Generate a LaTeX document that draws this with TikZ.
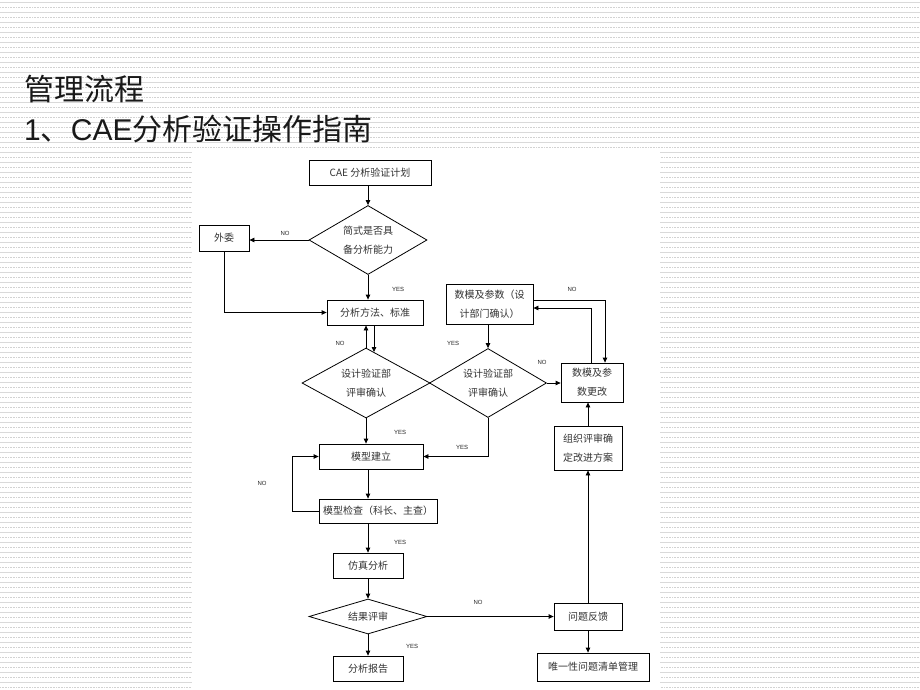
\documentclass[tikz,border=0pt]{standalone}
\usepackage{fontspec}
\newfontfamily\cjk{Noto Sans CJK SC}
\setsansfont{Liberation Sans}
\usetikzlibrary{shapes.geometric,arrows.meta}
\begin{document}
\begin{tikzpicture}[x=1pt,y=-1pt,
  box/.style={draw=black, line width=0.8pt, fill=white, inner sep=0pt,
    font=\cjk\fontsize{10}{19}\selectfont, text=black!80, align=center},
  dia/.style={diamond, draw=black, line width=0.8pt, fill=white, inner sep=0pt,
    font=\cjk\fontsize{10}{19}\selectfont, text=black!80, align=center},
  arr/.style={draw=black, line width=0.8pt, -{Triangle[length=5pt,width=4.5pt]}},
  ln/.style={draw=black, line width=0.8pt},
  lbl/.style={font=\sffamily\fontsize{6}{6}\selectfont, text=black!85, inner sep=0pt},
  ttl/.style={font=\cjk\fontsize{30}{34}\selectfont, text=black!90, anchor=west, inner sep=0pt}]
\useasboundingbox (0,0) rectangle (920,690);
% background stripes
\fill[white] (0,0) rectangle (920,690);
\foreach \k in {0,...,68}{
  \draw[gray!30, line width=0.7pt] (0,\k*10+2) -- (920,\k*10+2);
  \draw[gray!35, line width=0.6pt, densely dotted] (0,\k*10+7) -- (920,\k*10+7);
}
% white panel
\fill[white] (192,152) rectangle (660,690);
% title
\node[ttl] (t1) at (24,89) {管理流程};
\node[ttl] (t2) at (24,129) {{\sffamily 1}、{\sffamily CAE}分析验证操作指南};
% nodes
\node[box, minimum width=122pt, minimum height=25pt] (plan) at (370,172.5) {CAE 分析验证计划};
\node[dia, minimum width=118pt, minimum height=69pt, aspect=1.7] (d1) at (368,240) {简式是否具\\备分析能力};
\node[box, minimum width=50pt, minimum height=26pt] (wai) at (224,238) {外委};
\node[box, minimum width=96pt, minimum height=25pt] (method) at (375,312.5) {分析方法、标准};
\node[box, minimum width=87pt, minimum height=40pt] (param) at (489.5,304) {数模及参数（设\\计部门确认）};
\node[dia, minimum width=128pt, minimum height=70pt, aspect=1.7] (d2) at (366,383) {设计验证部\\评审确认};
\node[dia, minimum width=117pt, minimum height=69pt, aspect=1.7] (d3) at (488,383) {设计验证部\\评审确认};
\node[box, minimum width=62pt, minimum height=39pt] (change) at (592,382.5) {数模及参\\数更改};
\node[box, minimum width=68pt, minimum height=44pt] (org) at (588,448) {组织评审确\\定改进方案};
\node[box, minimum width=104pt, minimum height=25pt] (build) at (371,456.5) {模型建立};
\node[box, minimum width=118pt, minimum height=24pt] (check) at (378,511) {模型检查（科长、主查）};
\node[box, minimum width=70pt, minimum height=25pt] (sim) at (368,565.5) {仿真分析};
\node[dia, minimum width=118pt, minimum height=35pt, aspect=3.4] (d4) at (368,616.5) {结果评审};
\node[box, minimum width=70pt, minimum height=25pt] (report) at (368,668.5) {分析报告};
\node[box, minimum width=68pt, minimum height=27pt] (fb) at (588,616.5) {问题反馈};
\node[box, minimum width=112pt, minimum height=28pt] (uniq) at (593,667) {唯一性问题清单管理};
% helper coordinates
\coordinate (dn) at (374,352);
\coordinate (c1) at (605,300);
\coordinate (c2) at (591,308);
\coordinate (lp) at (292,511);
% connectors
\draw[arr] (plan.south -| d1.north) -- (d1.north);
\draw[arr] (d1.west) -- (d1.west -| wai.east);
\draw[arr] (d1.south) -- (d1.south |- method.north);
\draw[arr] (wai.south) |- (method.west);
\draw[arr] (method.south -| dn) -- (dn);
\draw[arr] (d2.north) -- (d2.north |- method.south);
\draw[arr] (d3.north |- param.south) -- (d3.north);
\draw[arr] (d3.east) -- (d3.east -| change.west);
\draw[arr] (param.east |- c1) -- (c1) -- (c1 |- change.north);
\draw[arr] (c2 |- change.north) -- (c2) -- (c2 -| param.east);
\draw[arr] (org.north) -- (org.north |- change.south);
\draw[arr] (fb.north) -- (org.south);
\draw[arr] (fb.south) -- (fb.south |- uniq.north);
\draw[arr] (d2.south) -- (d2.south |- build.north);
\draw[arr] (d3.south) |- (build.east);
\draw[arr] (build.south -| sim.north) -- (sim.north |- check.north);
\draw[arr] (check.south -| sim.north) -- (sim.north);
\draw[arr] (check.west) -- (lp) |- (build.west);
\draw[arr] (sim.south) -- (d4.north);
\draw[arr] (d4.east) -- (d4.east -| fb.west);
\draw[arr] (d4.south) -- (report.north);
% labels
\node[lbl] (l1) at (285,233) {NO};
\node[lbl] (l2) at (398,289) {YES};
\node[lbl] (l3) at (340,343) {NO};
\node[lbl] (l4) at (453,343) {YES};
\node[lbl] (l5) at (542,362) {NO};
\node[lbl] (l6) at (572,289) {NO};
\node[lbl] (l7) at (400,432) {YES};
\node[lbl] (l8) at (462,447) {YES};
\node[lbl] (l9) at (262,483) {NO};
\node[lbl] (l10) at (400,542) {YES};
\node[lbl] (l11) at (478,602) {NO};
\node[lbl] (l12) at (412,646) {YES};
\end{tikzpicture}
\end{document}
